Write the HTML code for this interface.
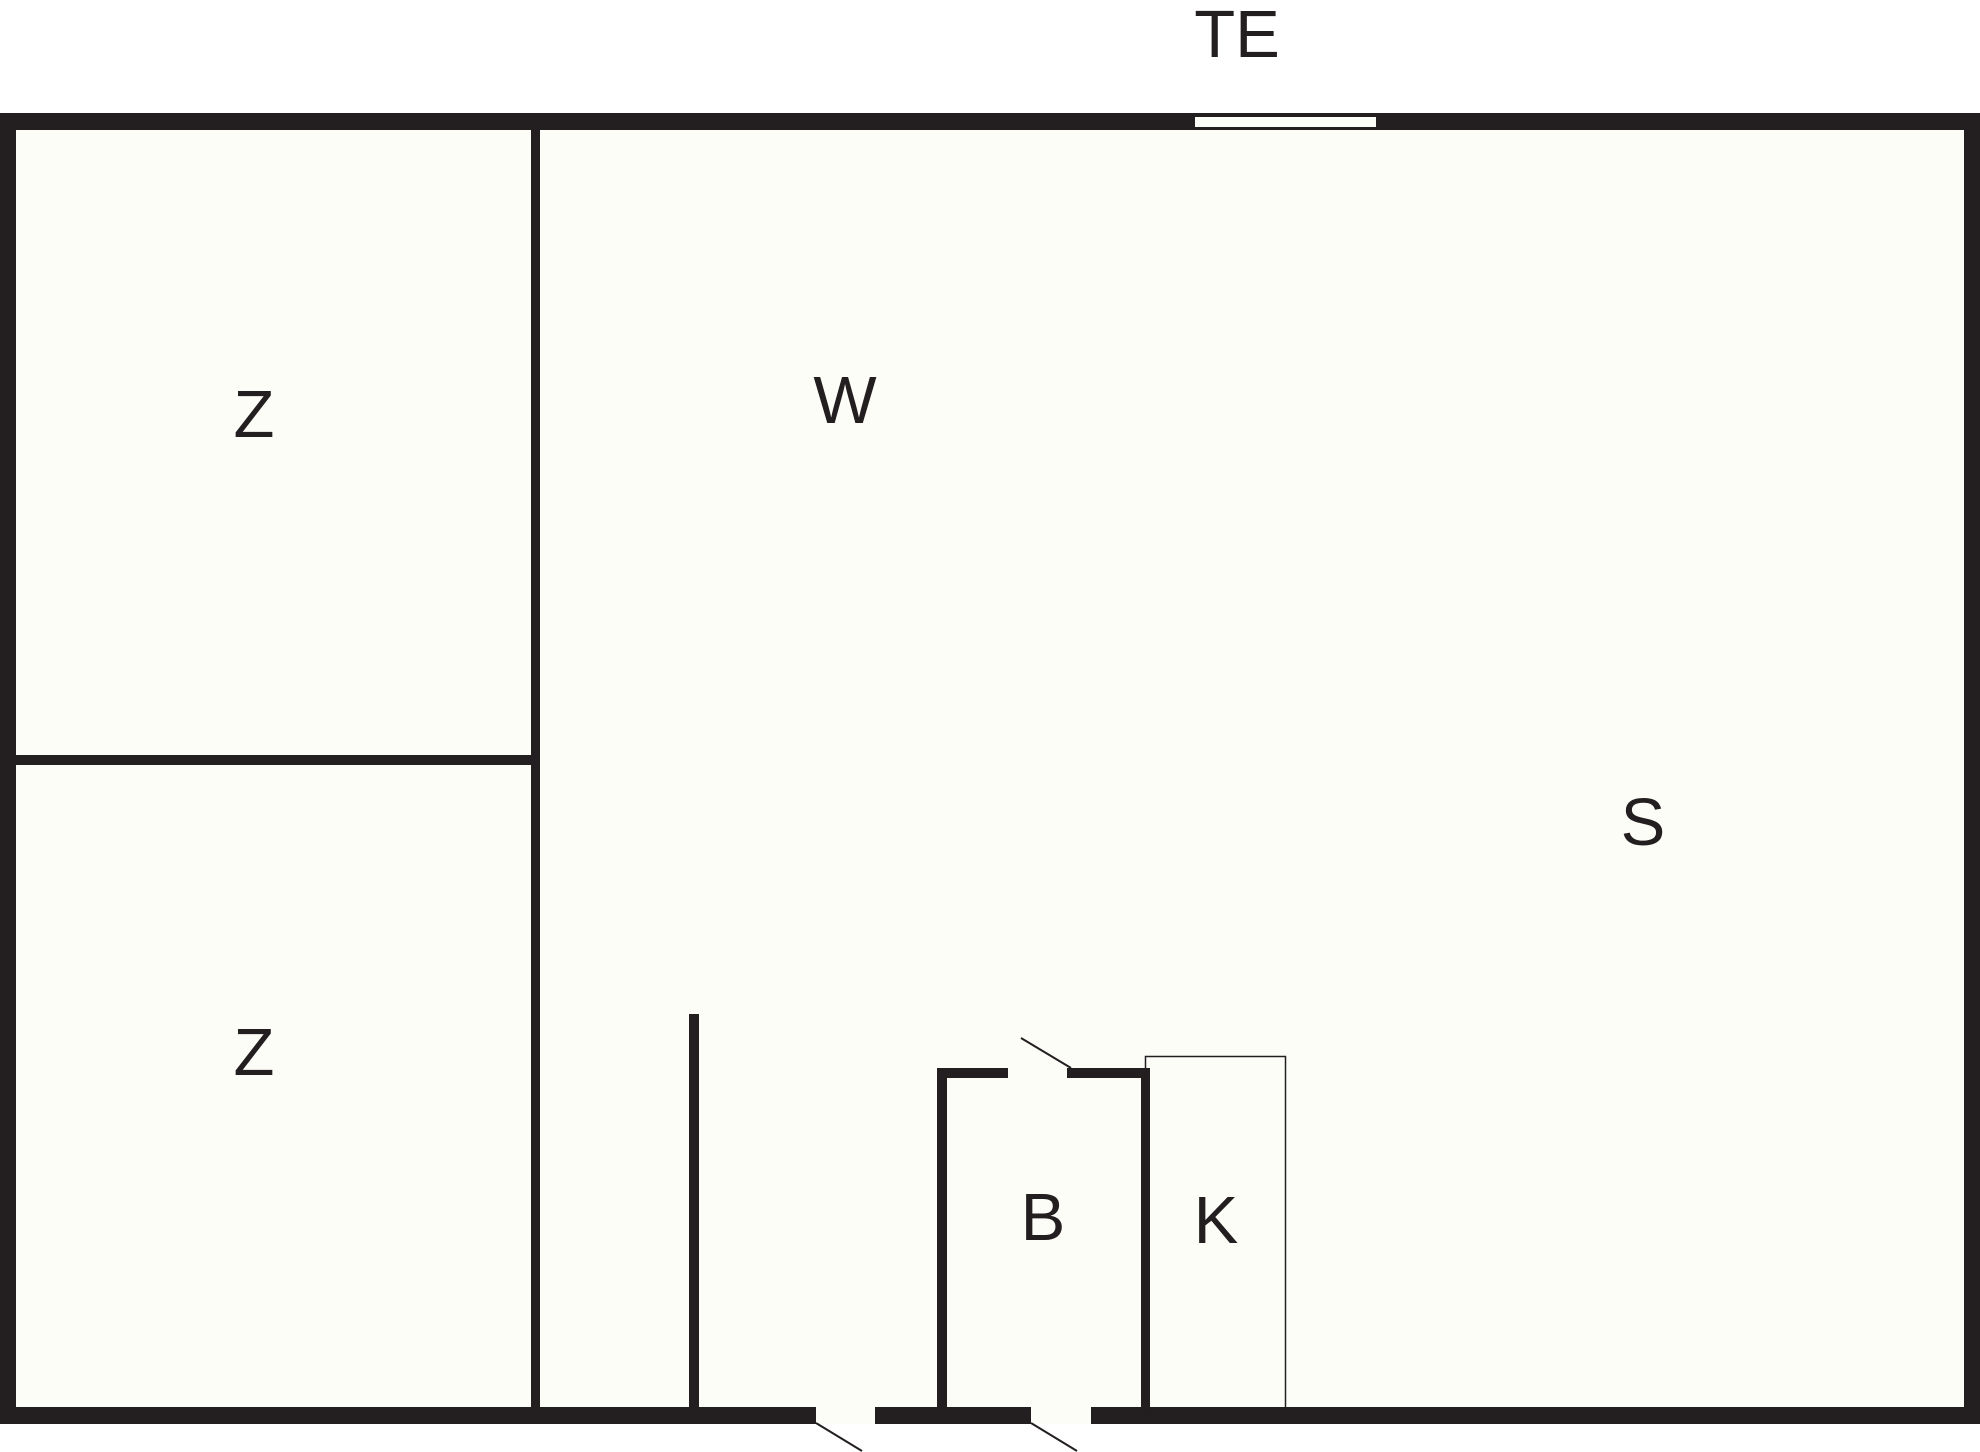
<!DOCTYPE html>
<html><head><meta charset="utf-8"><style>
html,body{margin:0;padding:0;background:#fff;}
svg{display:block;}
text{font-family:"Liberation Sans",sans-serif;font-size:67px;fill:#231f20;text-anchor:middle;}
</style></head><body>
<svg width="1980" height="1452" viewBox="0 0 1980 1452" xmlns="http://www.w3.org/2000/svg">
<rect x="0" y="0" width="1980" height="1452" fill="#fff"/>
<!-- floor fill -->
<rect x="0" y="113" width="1980" height="1311" fill="#fdfdf7"/>
<!-- outer walls -->
<rect x="0" y="113" width="1980" height="17" fill="#231f20"/>
<rect x="0" y="1407" width="1980" height="17" fill="#231f20"/>
<rect x="0" y="113" width="16" height="1311" fill="#231f20"/>
<rect x="1964" y="113" width="16" height="1311" fill="#231f20"/>
<!-- TE window -->
<rect x="1195" y="117" width="181" height="10" fill="#fdfdf7"/>
<!-- interior walls -->
<rect x="531" y="113" width="9" height="1311" fill="#231f20"/>
<rect x="0" y="755" width="540" height="10" fill="#231f20"/>
<rect x="689" y="1014" width="10" height="400" fill="#231f20"/>
<!-- B room -->
<rect x="937" y="1068" width="10" height="346" fill="#231f20"/>
<rect x="937" y="1068" width="71" height="10" fill="#231f20"/>
<rect x="1067" y="1068" width="83" height="10" fill="#231f20"/>
<rect x="1141" y="1068" width="9" height="346" fill="#231f20"/>
<line x1="1021" y1="1038" x2="1071" y2="1068" stroke="#231f20" stroke-width="2"/>
<!-- K box -->
<rect x="1145.5" y="1056.5" width="140" height="360" fill="none" stroke="#231f20" stroke-width="1.5"/>
<!-- bottom doors -->
<rect x="816" y="1407" width="59" height="17" fill="#fdfdf7"/>
<rect x="1031" y="1407" width="60" height="17" fill="#fdfdf7"/>
<line x1="816" y1="1423" x2="862" y2="1451" stroke="#231f20" stroke-width="2"/>
<line x1="1031" y1="1423" x2="1077" y2="1451" stroke="#231f20" stroke-width="2"/>
<!-- labels -->
<text x="1237" y="57">TE</text>
<text x="254" y="437">Z</text>
<text x="254" y="1075">Z</text>
<text x="845" y="423">W</text>
<text x="1643" y="845">S</text>
<text x="1043" y="1240">B</text>
<text x="1216" y="1243">K</text>
</svg>
</body></html>
